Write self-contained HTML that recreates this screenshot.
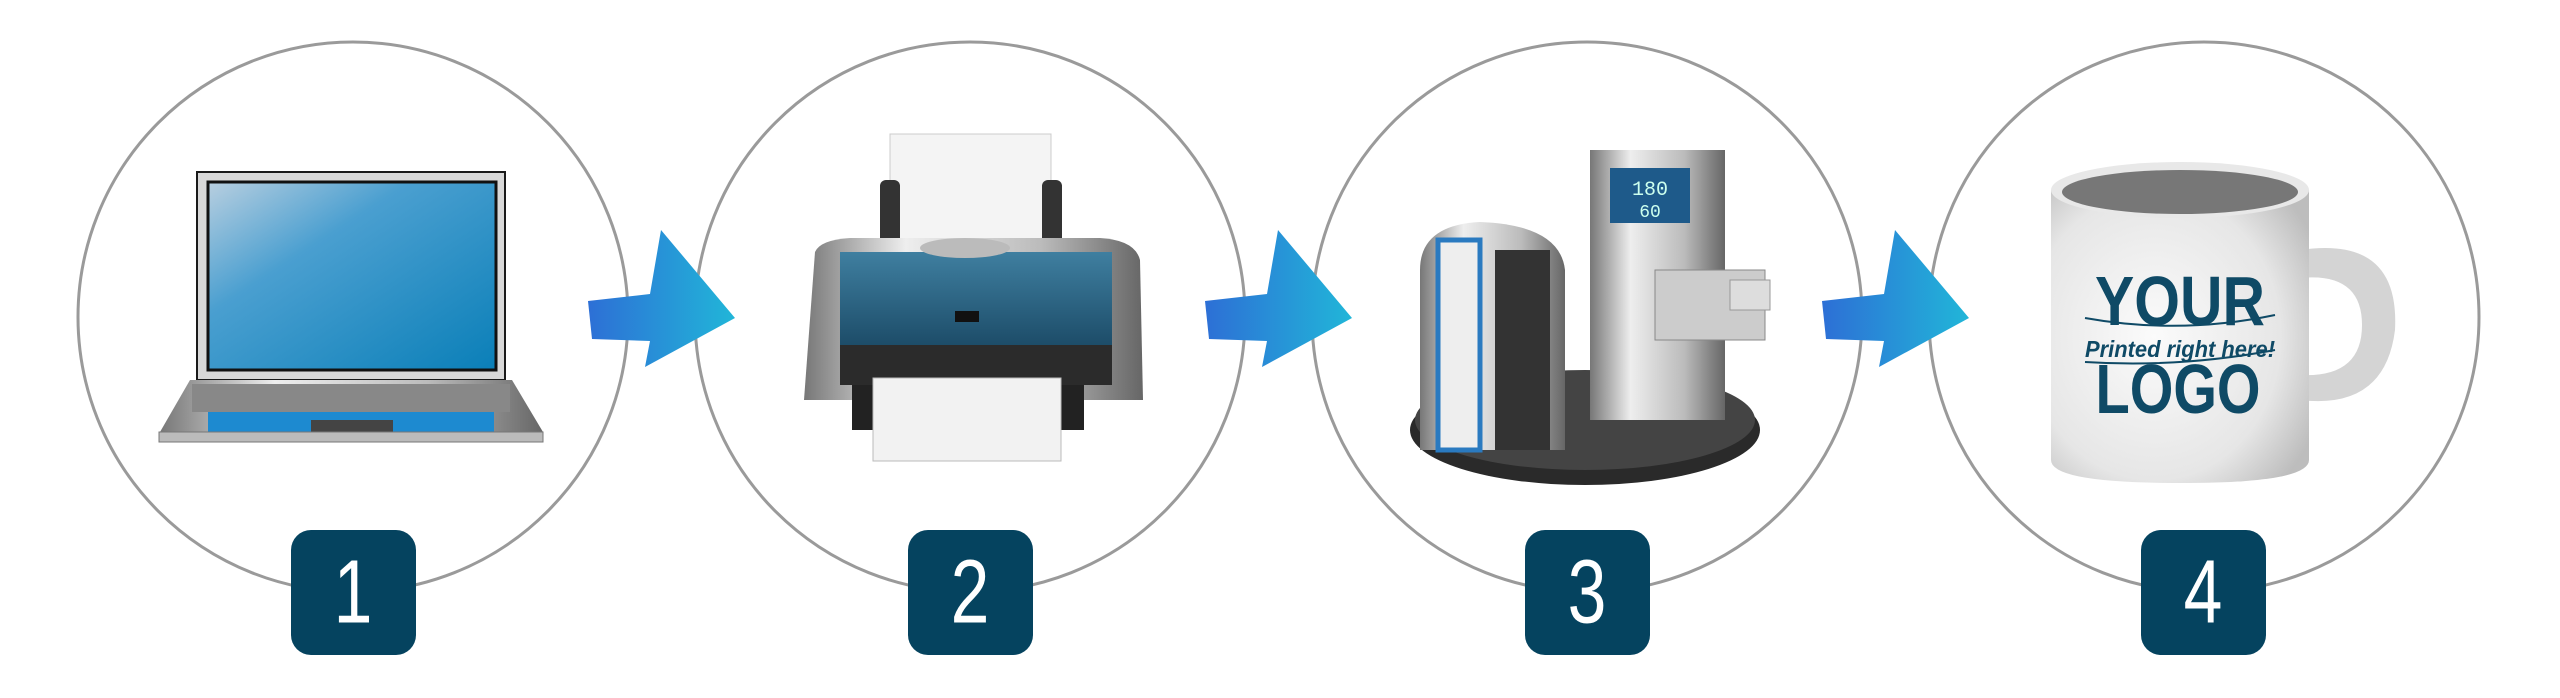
<!DOCTYPE html>
<html><head><meta charset="utf-8"><style>
html,body{margin:0;padding:0;background:#fff}
svg{display:block}
</style></head><body>
<svg width="2560" height="698" viewBox="0 0 2560 698" xmlns="http://www.w3.org/2000/svg">
<defs>
<linearGradient id="arr" x1="0" y1="0" x2="1" y2="0"><stop offset="0" stop-color="#2d6fd6"/><stop offset="1" stop-color="#21b6d8"/></linearGradient>
<linearGradient id="scr" x1="0" y1="0" x2="1" y2="1"><stop offset="0" stop-color="#b8cfe0"/><stop offset=".35" stop-color="#4a9fd0"/><stop offset="1" stop-color="#0a7fb8"/></linearGradient>
<linearGradient id="pb" x1="0" y1="0" x2="0" y2="1"><stop offset="0" stop-color="#3f7fa0"/><stop offset="1" stop-color="#1b4a66"/></linearGradient>
<linearGradient id="metal" x1="0" y1="0" x2="1" y2="0"><stop offset="0" stop-color="#777"/><stop offset=".3" stop-color="#eee"/><stop offset=".7" stop-color="#bbb"/><stop offset="1" stop-color="#666"/></linearGradient>
<radialGradient id="mug" cx=".4" cy=".5" r=".7"><stop offset="0" stop-color="#fbfbfb"/><stop offset=".7" stop-color="#e6e6e6"/><stop offset="1" stop-color="#bdbdbd"/></radialGradient>
<g id="arrow"><path d="M0 27 L62 20 L73 -44 L147 44 L57 93 L62 67 L4 65 Z" fill="url(#arr)"/></g>
</defs>
<g fill="none" stroke="#9a9a9a" stroke-width="3">
<circle cx="353" cy="317" r="275"/><circle cx="970" cy="317" r="275"/><circle cx="1587" cy="317" r="275"/><circle cx="2204" cy="317" r="275"/>
</g>
<use href="#arrow" x="588" y="274"/><use href="#arrow" x="1205" y="274"/><use href="#arrow" x="1822" y="274"/>
<!-- laptop -->
<rect x="196" y="171" width="310" height="210" fill="#1a1a1a"/>
<rect x="198" y="173" width="306" height="206" fill="#d8d8d8"/>
<rect x="208" y="182" width="288" height="188" fill="url(#scr)" stroke="#111" stroke-width="3"/>
<path d="M160 432 L190 380 L512 380 L543 432 Z" fill="url(#metal)"/>
<rect x="192" y="384" width="318" height="28" fill="#888"/>
<rect x="208" y="412" width="286" height="22" fill="#1d8ad0"/>
<rect x="311" y="420" width="82" height="12" fill="#444"/>
<rect x="159" y="432" width="384" height="10" fill="#bbb" stroke="#777"/>
<!-- printer -->
<rect x="890" y="134" width="161" height="130" fill="#f4f4f4" stroke="#ccc"/>
<rect x="880" y="180" width="20" height="70" rx="6" fill="#333"/><rect x="1042" y="180" width="20" height="70" rx="6" fill="#333"/>
<path d="M815 252 Q820 240 850 238 L1100 238 Q1135 240 1140 260 L1143 400 L804 400 Z" fill="url(#metal)"/>
<path d="M840 252 L1112 252 L1112 350 L840 350 Z" fill="url(#pb)"/>
<ellipse cx="965" cy="248" rx="45" ry="10" fill="#bbb"/>
<rect x="955" y="311" width="24" height="11" fill="#111"/>
<rect x="840" y="345" width="272" height="40" fill="#2b2b2b"/>
<rect x="852" y="385" width="232" height="45" fill="#222"/>
<rect x="873" y="378" width="188" height="83" fill="#f2f2f2" stroke="#bbb"/>
<!-- heat press -->
<ellipse cx="1585" cy="430" rx="175" ry="55" fill="#2a2a2a"/>
<ellipse cx="1585" cy="420" rx="170" ry="50" fill="#444"/>
<rect x="1590" y="150" width="135" height="270" fill="url(#metal)"/>
<rect x="1610" y="168" width="80" height="55" fill="#1e5a8a"/>
<text x="1650" y="195" font-family="Liberation Mono,monospace" font-size="20" fill="#cfe" text-anchor="middle">180</text>
<text x="1650" y="217" font-family="Liberation Mono,monospace" font-size="18" fill="#cfe" text-anchor="middle">60</text>
<rect x="1655" y="270" width="110" height="70" fill="#ccc" stroke="#888"/>
<rect x="1730" y="280" width="40" height="30" fill="#ddd" stroke="#999"/>
<path d="M1420 270 Q1420 225 1480 222 Q1560 225 1565 270 L1565 450 L1420 450 Z" fill="url(#metal)"/>
<rect x="1438" y="240" width="42" height="210" fill="#eee" stroke="#2a7ac0" stroke-width="5"/>
<rect x="1495" y="250" width="55" height="200" fill="#333"/>
<!-- mug -->
<path d="M2300 250 Q2400 235 2395 330 Q2385 410 2300 400 L2300 375 Q2362 378 2362 325 Q2362 272 2300 278 Z" fill="#d4d4d4"/>
<path d="M2051 190 L2051 460 Q2051 483 2180 483 Q2309 483 2309 460 L2309 190 Z" fill="url(#mug)"/>
<ellipse cx="2180" cy="190" rx="129" ry="28" fill="#e8e8e8"/>
<ellipse cx="2180" cy="192" rx="118" ry="22" fill="#777"/>
<text x="2180" y="325" font-family="Liberation Sans,sans-serif" font-weight="bold" font-size="70" fill="#0f4a66" text-anchor="middle" textLength="170" lengthAdjust="spacingAndGlyphs">YOUR</text>
<text x="2180" y="357" font-family="Liberation Sans,sans-serif" font-style="italic" font-weight="bold" font-size="23" fill="#0f4a66" text-anchor="middle" textLength="190" lengthAdjust="spacingAndGlyphs">Printed right here!</text>
<text x="2178" y="413" font-family="Liberation Sans,sans-serif" font-weight="bold" font-size="70" fill="#0f4a66" text-anchor="middle" textLength="165" lengthAdjust="spacingAndGlyphs">LOGO</text>
<path d="M2085 318 Q2180 335 2275 315 M2085 362 Q2180 368 2275 350" stroke="#0f4a66" stroke-width="2" fill="none"/>
<!-- badges -->
<g font-family="Liberation Sans,sans-serif" font-size="82" fill="#fff" text-anchor="middle">
<rect x="291" y="530" width="125" height="125" rx="20" fill="#05435f"/><text x="353" y="622" transform="translate(353,0) scale(0.85,1.1) translate(-353,-56)">1</text>
<rect x="908" y="530" width="125" height="125" rx="20" fill="#05435f"/><text x="970" y="622" transform="translate(970,0) scale(0.85,1.1) translate(-970,-56)">2</text>
<rect x="1525" y="530" width="125" height="125" rx="20" fill="#05435f"/><text x="1587" y="622" transform="translate(1587,0) scale(0.85,1.1) translate(-1587,-56)">3</text>
<rect x="2141" y="530" width="125" height="125" rx="20" fill="#05435f"/><text x="2203" y="622" transform="translate(2203,0) scale(0.85,1.1) translate(-2203,-56)">4</text>
</g>
</svg>
</body></html>
